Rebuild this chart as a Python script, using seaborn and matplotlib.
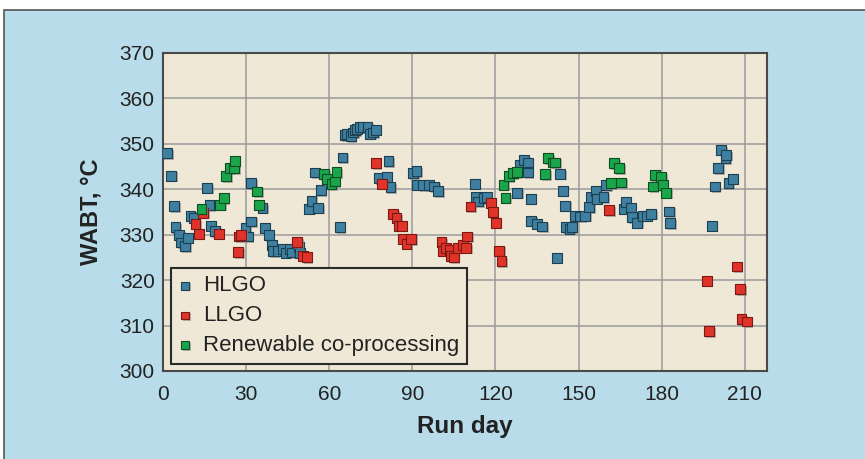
import pandas as pd
import matplotlib.pyplot as plt
import matplotlib.patheffects as pe
from matplotlib.patches import Rectangle
import seaborn as sns

hlgo_day = [1.5, 3.0, 4.0, 4.5, 5.9, 6.6, 8.0, 8.9, 9.9, 11.2, 15.9, 16.8, 17.2, 18.9,
            29.8, 30.6, 31.9, 31.9, 35.9, 36.7, 38.2, 39.2, 39.8, 41.6, 43.4, 44.2, 45.8,
            46.6, 49.0, 49.4, 52.8, 53.6, 55.0, 56.0, 56.9, 63.8, 64.8, 65.6, 66.3, 67.8,
            68.7, 69.3, 69.9, 71.1, 72.3, 73.8, 74.7, 75.9, 76.8, 77.9, 80.7, 81.4, 82.1,
            90.3, 91.5, 91.8, 93.9, 96.1, 97.8, 99.4, 112.5, 112.9, 113.8, 115.9, 116.8,
            127.9, 128.9, 130.3, 131.7, 131.7, 132.7, 132.8, 134.9, 136.9, 142.1, 143.3,
            144.3, 145.1, 145.5, 146.7, 147.5, 148.7, 150.5, 152.3, 153.9, 154.5, 156.3,
            156.6, 159.0, 159.9, 166.4, 167.0, 168.8, 169.2, 171.2, 173.2, 174.6, 176.2,
            182.7, 183.1, 198.1, 199.2, 200.4, 201.4, 203.0, 203.2, 204.1, 205.7]
hlgo_wabt = [348.0, 343.0, 336.3, 331.7, 329.9, 328.3, 327.5, 329.3, 334.2, 333.7, 340.3,
             336.5, 332.0, 330.8, 331.6, 329.6, 332.9, 341.4, 335.9, 331.5, 329.9, 327.8,
             326.4, 326.5, 326.8, 326.0, 326.8, 326.1, 327.3, 326.0, 335.7, 337.5, 343.7,
             335.9, 339.8, 331.7, 347.0, 351.9, 352.2, 351.7, 352.5, 353.0, 353.3, 353.7,
             353.7, 353.7, 352.2, 352.5, 353.1, 342.5, 342.7, 346.2, 340.5, 343.6, 344.0,
             341.0, 340.9, 340.9, 340.6, 339.6, 341.2, 338.3, 337.3, 338.0, 338.3, 339.2,
             345.4, 346.5, 345.9, 343.7, 337.9, 333.1, 332.4, 331.8, 324.9, 343.4, 339.7,
             336.4, 331.7, 331.3, 331.7, 334.2, 334.0, 334.2, 336.1, 338.3, 339.6, 337.9,
             338.3, 340.9, 335.7, 337.2, 335.8, 333.9, 332.6, 334.2, 334.2, 334.6, 335.1,
             332.5, 332.0, 340.6, 344.6, 348.7, 346.9, 347.6, 341.4, 342.3]

llgo_day = [11.7, 12.9, 14.5, 20.1, 27.1, 27.5, 28.3, 48.5, 50.6, 51.9, 76.8, 78.9, 83.1,
            84.3, 85.3, 86.2, 86.5, 87.9, 89.5, 100.5, 101.2, 102.1, 103.6, 103.8, 105.0,
            106.6, 108.2, 109.4, 109.7, 111.0, 118.3, 119.0, 120.1, 121.3, 122.2, 161.1,
            196.3, 197.2, 207.1, 208.3, 208.8, 210.7]
llgo_wabt = [332.4, 330.2, 334.8, 330.2, 326.2, 329.6, 330.0, 328.4, 325.4, 325.1, 345.8,
             341.2, 334.6, 333.7, 332.0, 332.0, 329.1, 328.0, 329.0, 328.4, 326.5, 327.1,
             326.6, 325.4, 325.0, 327.1, 327.7, 327.1, 329.6, 336.2, 336.9, 335.0, 332.6,
             326.5, 324.2, 335.4, 319.9, 308.8, 323.0, 318.0, 311.4, 310.9]

renew_day = [13.9, 20.6, 21.9, 22.8, 24.1, 25.7, 25.9, 34.0, 34.6, 58.2, 59.3, 60.8, 62.0,
             62.6, 122.9, 123.6, 124.8, 126.2, 127.7, 138.0, 139.1, 140.9, 141.6, 161.6,
             162.9, 164.6, 165.4, 176.8, 177.6, 179.8, 180.4, 181.6]
renew_wabt = [335.7, 336.6, 338.0, 342.9, 344.7, 344.6, 346.2, 339.5, 336.6, 343.3, 342.2,
              341.1, 341.7, 343.8, 341.0, 338.1, 342.9, 343.6, 343.8, 343.3, 346.9, 345.9,
              345.9, 341.4, 345.8, 344.7, 341.5, 340.6, 343.1, 342.7, 340.9, 339.2]

series = [
    ('HLGO', hlgo_day, hlgo_wabt, '#3f7f9f', '#1d3f52'),
    ('LLGO', llgo_day, llgo_wabt, '#e0332a', '#7a1a14'),
    ('Renewable co-processing', renew_day, renew_wabt, '#1ba54b', '#0c4d22'),
]

sns.set_theme(style='whitegrid')
plt.rcParams['font.family'] = ['Liberation Sans', 'DejaVu Sans']

fig = plt.figure(figsize=(8.65, 4.59), dpi=100, facecolor='white')
# голубая подложка с тонкой рамкой
fig.patches.append(Rectangle((4 / 865, -0.01), 1.0, 1 - 10 / 459 + 0.01, transform=fig.transFigure,
                             facecolor='#b9dcea', edgecolor='#555555', linewidth=1.2, zorder=-1))
ax = fig.add_axes([163 / 865, 88 / 459, 604 / 865, 318 / 459])
ax.set_facecolor('#f0e8d6')

shadow = [pe.SimplePatchShadow(offset=(1.2, -1.2), shadow_rgbFace='#8a8a8a', alpha=0.6), pe.Normal()]
for name, d, w, fc, ec in series:
    df = pd.DataFrame({'day': d, 'wabt': w})
    sns.scatterplot(data=df, x='day', y='wabt', marker='s', s=50, color=fc,
                    edgecolor=ec, linewidth=0.8, label=name, ax=ax, zorder=3,
                    path_effects=shadow)

ax.set_xlim(0, 218)
ax.set_ylim(300, 370)
ax.set_xticks(range(0, 211, 30))
ax.set_yticks(range(300, 371, 10))
ax.grid(True, color='#9a9a9a', linewidth=1.1)
ax.set_axisbelow(True)
for sp in ax.spines.values():
    sp.set_color('#4a4a4a')
    sp.set_linewidth(1.5)
ax.tick_params(axis='both', length=0, labelsize=15, labelcolor='#222222')
ax.tick_params(axis='x', pad=10)
ax.tick_params(axis='y', pad=6)
ax.set_xlabel('Run day', fontsize=17.5, fontweight='bold', color='#222222', labelpad=8)
ax.set_ylabel('WABT, °C', fontsize=17, fontweight='bold', color='#222222', labelpad=12)

leg = ax.legend(loc='lower left', bbox_to_anchor=(0.0127, 0.022), borderaxespad=0,
                fontsize=16, frameon=True, fancybox=False, framealpha=1,
                facecolor='#f0e8d6', edgecolor='#2a2a2a', handlelength=0.6,
                handletextpad=0.5, labelspacing=0.4, markerscale=0.8, borderpad=0.35)
leg.get_frame().set_linewidth(1.5)
for t in leg.get_texts():
    t.set_color('#222222')

plt.savefig('out.png', dpi=100, facecolor=fig.get_facecolor())
